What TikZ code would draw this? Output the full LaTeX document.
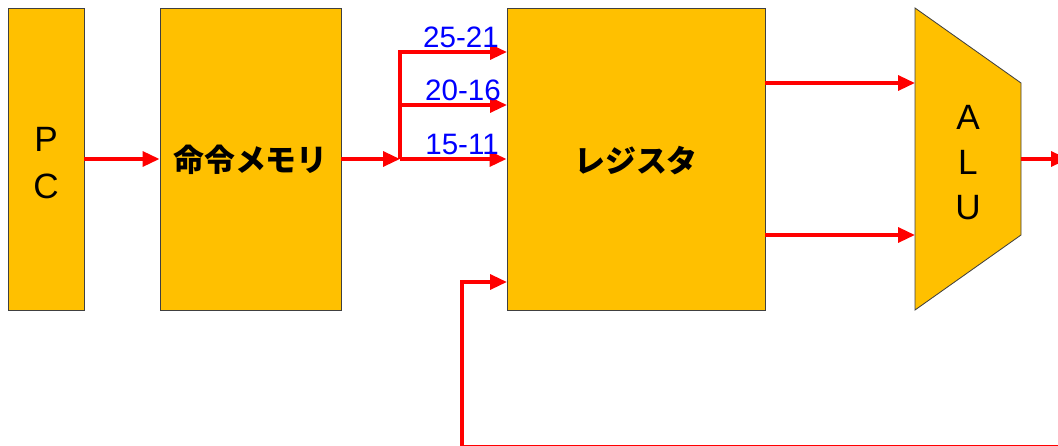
\documentclass[tikz,border=0pt]{standalone}
\usepackage{fontspec}
\setmainfont{Liberation Sans}
\newfontfamily\jpfont{Noto Sans CJK JP}
\usetikzlibrary{arrows.meta, positioning}

\definecolor{boxgold}{RGB}{255,192,0}
\definecolor{boxedge}{RGB}{64,64,64}

\begin{document}
\begin{tikzpicture}[x=0.025cm, y=-0.025cm,
    unit/.style={draw=boxedge, line width=0.6pt, fill=boxgold, rectangle, inner sep=0pt},
    wire/.style={red, line width=2.6pt, -{Triangle[length=12pt, width=10.5pt]}},
    num/.style={blue, font=\fontsize{21}{24}\selectfont, inner sep=0pt},
    big/.style={font=\fontsize{25}{33}\selectfont, align=center}]
    % Canvas (pixels of the reference)
    \useasboundingbox (0,0) rectangle (1058,446);

    % Program counter
    \node[unit, minimum width=1.9cm, minimum height=7.55cm] (pc) at (46,159) {};
    \node[big, font=\fontsize{25}{34}\selectfont] (pclabel) at (46,163) {P\\C};

    % Instruction memory
    \node[unit, minimum width=4.525cm, minimum height=7.55cm] (mem) at (250.5,159) {};
    \node[font=\jpfont\bfseries\fontsize{22}{24}\selectfont] (memlabel) at (250.5,160) {命令メモリ};

    % Register file
    \node[unit, minimum width=6.45cm, minimum height=7.55cm] (reg) at (636,159) {};
    \node[font=\jpfont\bfseries\fontsize{22}{24}\selectfont] (reglabel) at (636,161) {レジスタ};

    % ALU (trapezium)
    \draw[draw=boxedge, line width=0.6pt, fill=boxgold] (915,8) -- (1021,83) -- (1021,235) -- (915,310) -- cycle;
    \node[big, font=\fontsize{25}{32}\selectfont] (alu) at (968,163) {A\\L\\U};
    \coordinate (aluA) at (915,83);
    \coordinate (aluB) at (915,235);
    \coordinate (aluOut) at (1021,159);

    % Fields split off the instruction
    \coordinate (split) at (400,159);
    \coordinate (in1) at (507,52);
    \coordinate (in2) at (507,105);

    \draw[wire] (pc) -- (mem);
    \draw[wire] (mem) -- (split);
    \draw[wire] (split) |- (in1);
    \draw[wire] (split) |- (in2);
    \draw[wire] (split) -- (reg);

    \node[num, anchor=south east] (f1) at (499,48) {25-21};
    \node[num, anchor=south east] (f2) at (501,101) {20-16};
    \node[num, anchor=south east] (f3) at (499,155) {15-11};

    % Register outputs into the ALU
    \draw[wire] (reg.east |- aluA) -- (aluA);
    \draw[wire] (reg.east |- aluB) -- (aluB);

    % ALU result (runs off the right edge)
    \coordinate (res) at (1068,159);
    \draw[wire] (aluOut) -- (res);

    % Write-back loop (runs off the bottom)
    \coordinate (wbA) at (1070,446.4);
    \coordinate (wbB) at (462,446.4);
    \coordinate (wbIn) at (507,282);
    \draw[wire] (wbA) -- (wbB) |- (wbIn);
\end{tikzpicture}
\end{document}
